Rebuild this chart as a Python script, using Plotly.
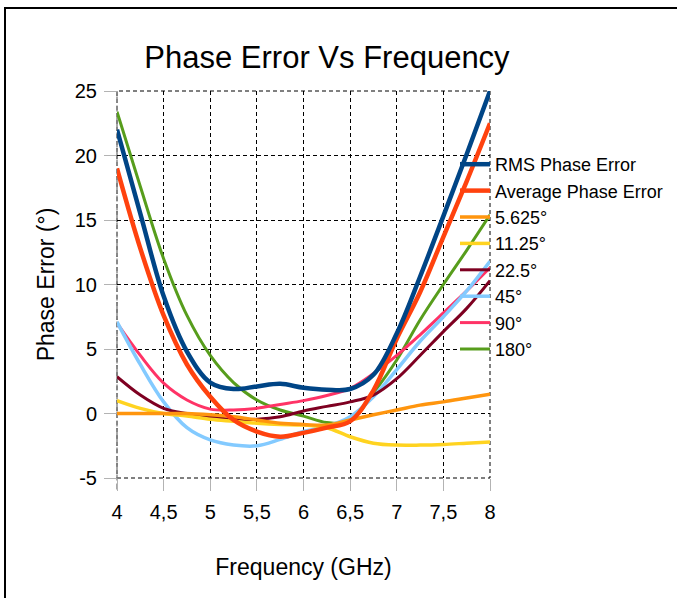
import plotly.graph_objects as go

# ---------------- data ----------------
FREQ = [4, 4.25, 4.5, 4.75, 5, 5.25, 5.5, 5.75, 6, 6.25, 6.5, 6.75, 7, 7.25, 7.5, 7.75, 8]

RMS = [22.0, 15.5, 9.1, 4.8, 2.4, 1.9, 2.1, 2.3, 2.0, 1.85, 1.9, 3.0, 6.2, 10.6, 15.3, 20.1, 25.0]
AVG = [19.0, 12.8, 7.6, 3.8, 1.3, -0.5, -1.4, -1.8, -1.5, -1.1, -0.6, 1.8, 5.8, 9.4, 13.7, 18.0, 22.5]
P5625 = [0.0, 0.0, 0.0, 0.0, -0.1, -0.25, -0.5, -0.75, -0.85, -0.9, -0.5, -0.1, 0.27, 0.65, 0.9, 1.2, 1.5]
P1125 = [1.0, 0.4, 0.0, -0.2, -0.45, -0.6, -0.75, -0.85, -0.9, -1.1, -1.8, -2.3, -2.45, -2.45, -2.4, -2.3, -2.2]
P225 = [2.85, 1.43, 0.4, 0.0, -0.25, -0.45, -0.45, -0.25, 0.2, 0.55, 0.9, 1.43, 2.7, 4.5, 6.35, 8.15, 10.3]
P45 = [7.1, 3.8, 0.9, -1.1, -2.05, -2.44, -2.5, -2.0, -1.4, -1.0, -0.25, 1.3, 3.4, 5.6, 7.5, 9.5, 11.8]
P90 = [7.0, 4.5, 2.35, 1.05, 0.34, 0.27, 0.4, 0.7, 1.0, 1.4, 1.95, 3.1, 4.5, 6.1, 7.8, 9.5, 11.3]
P180 = [23.4, 17.6, 12.0, 7.6, 4.5, 2.4, 1.05, 0.27, -0.2, -0.7, -0.6, 1.6, 4.15, 7.25, 10.0, 12.65, 15.4]

SERIES_NAMES = ["RMS Phase Error", "Average Phase Error", "5.625°", "11.25°", "22.5°", "45°", "90°", "180°"]
SERIES_VALUES = [RMS, AVG, P5625, P1125, P225, P45, P90, P180]

X_TICKS = [4, 4.5, 5, 5.5, 6, 6.5, 7, 7.5, 8]
X_TICK_LABELS = ["4", "4,5", "5", "5,5", "6", "6,5", "7", "7,5", "8"]
Y_TICKS = [-5, 0, 5, 10, 15, 20, 25]
Y_TICK_LABELS = ["-5", "0", "5", "10", "15", "20", "25"]

# ---------------- styles ----------------
COLORS = ["#004586", "#FF420E", "#FF950E", "#FFD320", "#7E0021", "#83CAFF", "#FF3366", "#579D1C"]
WIDTHS = [4.5, 4.5, 3.5, 3.5, 3, 3.5, 3, 3]

W, H = 677, 598
ML, MR, MT, MB = 117, 187, 91, 120
PW, PH = W - ML - MR, H - MT - MB


def px_x(px):
    return (px - ML) / PW


def px_y(py):
    return (H - MB - py) / PH


FONT = "Liberation Sans, Arial, sans-serif"

fig = go.Figure()
# draw from last to first so RMS / Average lie on top
n = len(SERIES_NAMES)
for i in reversed(range(n)):
    fig.add_trace(go.Scatter(
        x=FREQ, y=SERIES_VALUES[i], name=SERIES_NAMES[i], mode="lines",
        line=dict(color=COLORS[i], width=WIDTHS[i], shape="spline", smoothing=1.0),
        legendrank=i + 1, legendgroup=f"g{i}",
    ))

fig.update_layout(
    width=W, height=H,
    margin=dict(l=ML, r=MR, t=MT, b=MB, autoexpand=False),
    paper_bgcolor="white", plot_bgcolor="white",
    font=dict(family=FONT, color="black"),
    title=dict(text="Phase Error Vs Frequency", x=px_x(327), xanchor="center",
               y=1 - 57 / H, yanchor="middle", xref="paper", yref="container",
               font=dict(size=31, family=FONT, color="black")),
    legend=dict(x=px_x(455), y=px_y(146), xanchor="left", yanchor="top",
                bgcolor="rgba(0,0,0,0)", font=dict(size=18, family=FONT, color="black"),
                tracegroupgap=0, itemwidth=30),
    showlegend=True,
)
fig.update_xaxes(
    range=[4, 8], tickvals=X_TICKS, ticktext=X_TICK_LABELS,
    showgrid=True, gridcolor="black", gridwidth=1, griddash="4px,3px",
    ticks="outside", ticklen=12, tickcolor="#b3b3b3", tickwidth=1,
    ticklabelstandoff=4,
    tickfont=dict(size=20, family=FONT, color="black"),
    zeroline=False, showline=False,
    title=dict(text="Frequency (GHz)", font=dict(size=23, family=FONT, color="black"), standoff=36),
)
fig.update_yaxes(
    range=[-5, 25], tickvals=Y_TICKS, ticktext=Y_TICK_LABELS,
    showgrid=True, gridcolor="black", gridwidth=1, griddash="4px,3px",
    ticks="outside", ticklen=12, tickcolor="#b3b3b3", tickwidth=1,
    ticklabelstandoff=3,
    tickfont=dict(size=20, family=FONT, color="black"),
    zeroline=False, showline=False,
    title=dict(text="Phase Error (°)", font=dict(size=23, family=FONT, color="black"), standoff=13),
)

# dashed frame of the plot area (top / right / bottom black, left grey)
fig.add_shape(type="rect", xref="x domain", yref="y domain", x0=0, x1=1, y0=0, y1=1,
              line=dict(color="black", width=1, dash="4px,3px"),
              fillcolor="rgba(0,0,0,0)", layer="below")
fig.add_shape(type="line", xref="x domain", yref="y domain", x0=0, x1=0, y0=-0.03, y1=1,
              line=dict(color="#8c8c8c", width=1.5, dash="6px,3px"), layer="below")

# outer frame of the chart page
fig.add_shape(type="rect", xref="paper", yref="paper",
              x0=px_x(5), x1=px_x(W + 20), y0=px_y(H + 20), y1=px_y(8),
              line=dict(color="black", width=2), fillcolor="rgba(0,0,0,0)", layer="below")

fig.write_html("out.html")
